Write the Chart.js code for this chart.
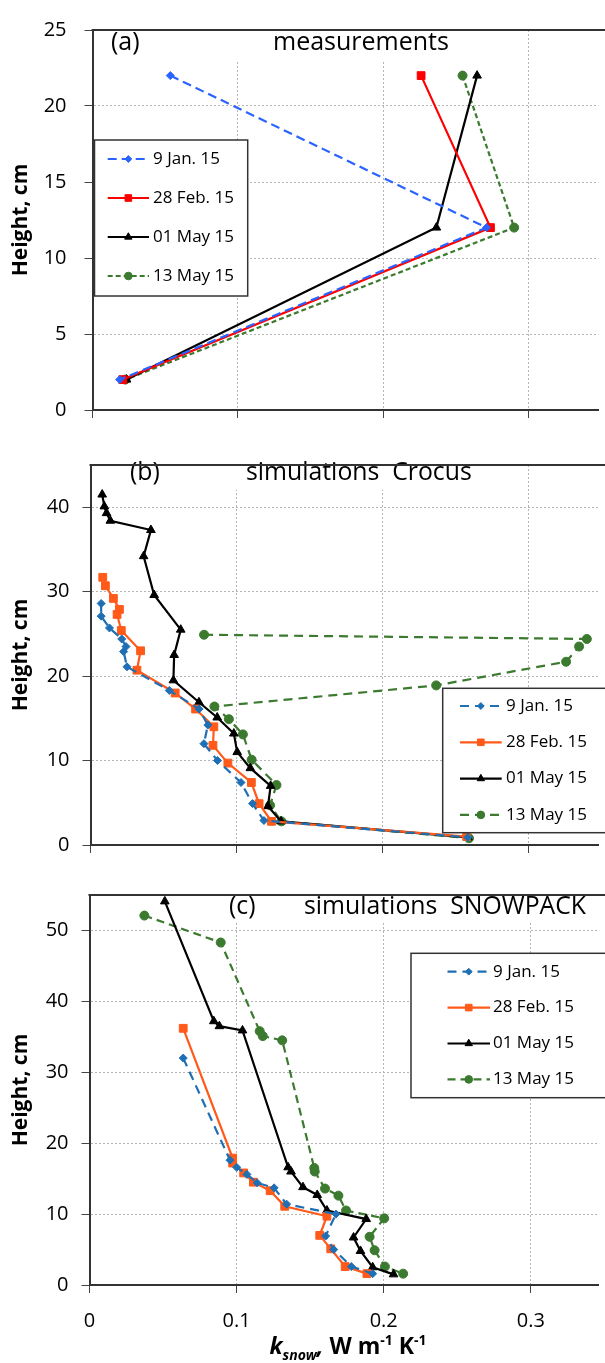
<!DOCTYPE html>
<html lang="en">
<head>
<meta charset="utf-8">
<title>k_snow profiles</title>
<script src="https://cdn.jsdelivr.net/npm/chart.js"></script>
<style>
  body { margin: 0; background: #fff; width: 605px; height: 1363px; overflow: hidden; position: relative; }
  .panel { position: absolute; left: 0; width: 605px; }
</style>
</head>
<body>
<div class="panel" style="top:0;height:440px"><canvas id="chartA"></canvas></div>
<div class="panel" style="top:440px;height:430px"><canvas id="chartB"></canvas></div>
<div class="panel" style="top:870px;height:493px"><canvas id="chartC"></canvas></div>

<script>
// ---- data (k_snow in W m-1 K-1, height in cm) ----
const seriesNames = ['9 Jan. 15', '28 Feb. 15', '01 May 15', '13 May 15'];
const xTicks = [0, 0.1, 0.2, 0.3];
const yTicksA = [0, 5, 10, 15, 20, 25];
const yTicksB = [0, 10, 20, 30, 40];
const yTicksC = [0, 10, 20, 30, 40, 50];

// (a) measurements
const measHeight = [22, 12, 2];
const measJan = [0.0535, 0.271, 0.0187];
const measFeb = [0.226, 0.2737, 0.0208];
const measMay01 = [0.2645, 0.2365, 0.0234];
const measMay13 = [0.2545, 0.29, 0.0226];

// (b) Crocus
const crocJanK = [0.0073, 0.0073, 0.013, 0.0214, 0.0243, 0.0227, 0.025, 0.054, 0.0744, 0.0804, 0.0777, 0.087, 0.1031, 0.111, 0.1188, 0.2585];
const crocJanH = [28.6, 27.1, 25.7, 24.4, 23.5, 22.9, 21.1, 18.3, 16.1, 14.2, 12.0, 10.0, 7.4, 4.9, 2.9, 0.9];
const crocFebK = [0.0084, 0.0102, 0.0157, 0.0198, 0.0182, 0.0211, 0.0343, 0.0318, 0.058, 0.072, 0.0845, 0.0839, 0.0941, 0.1102, 0.1155, 0.124, 0.2577];
const crocFebH = [31.7, 30.7, 29.2, 27.9, 27.3, 25.4, 23.0, 20.7, 18.0, 16.1, 14.0, 11.8, 9.7, 7.4, 4.9, 2.8, 1.0];
const crocMay01K = [0.008, 0.0095, 0.011, 0.0136, 0.0414, 0.0364, 0.0436, 0.0618, 0.0573, 0.0568, 0.0743, 0.0868, 0.0982, 0.1005, 0.1095, 0.1234, 0.1216, 0.1305, 0.2585];
const crocMay01H = [41.5, 40.1, 39.3, 38.4, 37.3, 34.2, 29.6, 25.5, 22.5, 19.5, 16.9, 15.1, 13.2, 11.0, 9.1, 7.0, 4.6, 2.8, 0.9];
const crocMay13K = [0.0778, 0.34, 0.3347, 0.3258, 0.2368, 0.0849, 0.0948, 0.1044, 0.1104, 0.1274, 0.123, 0.1308, 0.2593];
const crocMay13H = [24.9, 24.4, 23.5, 21.7, 18.9, 16.4, 14.9, 13.1, 10.1, 7.1, 4.7, 2.8, 0.8];

// (c) SNOWPACK
const snowJanK = [0.0637, 0.0955, 0.1, 0.107, 0.114, 0.1255, 0.134, 0.1675, 0.1605, 0.166, 0.178, 0.1925];
const snowJanH = [32.0, 17.6, 16.6, 15.6, 14.4, 13.7, 11.4, 10.0, 6.9, 5.0, 2.6, 1.6];
const snowFebK = [0.0637, 0.0973, 0.0973, 0.1048, 0.1114, 0.1228, 0.1327, 0.1614, 0.1565, 0.164, 0.1738, 0.1886];
const snowFebH = [36.2, 17.9, 17.2, 15.8, 14.5, 13.3, 11.1, 9.7, 7.0, 5.1, 2.6, 1.6];
const snowMay01K = [0.0512, 0.0845, 0.0883, 0.104, 0.135, 0.137, 0.1451, 0.1548, 0.1614, 0.1881, 0.1795, 0.1842, 0.1925, 0.2067];
const snowMay01H = [54.1, 37.2, 36.5, 35.9, 16.6, 16.0, 13.8, 12.7, 10.5, 9.3, 6.7, 4.8, 2.5, 1.5];
const snowMay13K = [0.0373, 0.0892, 0.1157, 0.1178, 0.131, 0.1528, 0.1531, 0.1601, 0.1692, 0.1744, 0.2003, 0.1904, 0.1938, 0.2008, 0.2132];
const snowMay13H = [52.1, 48.3, 35.8, 35.1, 34.5, 16.5, 16.0, 13.6, 12.6, 10.5, 9.4, 6.8, 4.9, 2.6, 1.6];

// ---- helpers ----
const FONT = '"Open Sans", "DejaVu Sans", sans-serif';
const pts = (k, h) => k.map((v, i) => ({ x: v, y: h[i] }));

function series(name, data, color, style, radius, dash) {
  return {
    label: name, data: data, showLine: true, fill: false, tension: 0,
    borderColor: color, backgroundColor: color, borderWidth: 2.2, borderDash: dash,
    pointStyle: style, pointRadius: radius, pointBackgroundColor: color,
    pointBorderColor: color, pointBorderWidth: 1
  };
}

// text box, top frame line and legend drawn inside the plot
const panelDeco = {
  id: 'panelDeco',
  beforeDatasetsDraw(chart, args, o) {
    const ctx = chart.ctx;
    ctx.save();
    ctx.fillStyle = '#fff';
    ctx.fillRect(o.box[0], o.box[1], o.box[2] - o.box[0], o.box[3] - o.box[1]);
    ctx.fillStyle = '#000';
    ctx.font = o.fontSize + 'px ' + FONT;
    ctx.textBaseline = 'middle';
    ctx.textAlign = 'left';
    ctx.fillText(o.tag, o.tagX, o.textY);
    ctx.fillText(o.title, o.titleX, o.textY);
    ctx.restore();
  },
  afterDatasetsDraw(chart, args, o) {
    const { ctx, chartArea: ca } = chart;
    ctx.save();
    ctx.strokeStyle = '#333';
    ctx.lineWidth = 2;
    ctx.beginPath();
    ctx.moveTo(ca.left - 1, ca.top);
    ctx.lineTo(chart.width + 2, ca.top);
    ctx.stroke();

    const L = o.legend;
    ctx.fillStyle = '#fff';
    ctx.fillRect(L.x1, L.y1, L.x2 - L.x1, L.y2 - L.y1);
    ctx.lineWidth = 1.5;
    ctx.strokeStyle = '#333';
    ctx.strokeRect(L.x1, L.y1, L.x2 - L.x1, L.y2 - L.y1);

    chart.data.datasets.forEach((ds, i) => {
      const y = L.rowY + i * L.rowGap;
      ctx.strokeStyle = ds.borderColor;
      ctx.lineWidth = ds.borderWidth;
      ctx.setLineDash(ds.borderDash || []);
      ctx.beginPath();
      ctx.moveTo(L.lx1, y);
      ctx.lineTo(L.lx2, y);
      ctx.stroke();
      ctx.setLineDash([]);
      ctx.fillStyle = ds.pointBackgroundColor;
      ctx.strokeStyle = ds.pointBorderColor;
      ctx.lineWidth = 1;
      Chart.helpers.drawPoint(ctx, { pointStyle: ds.pointStyle, radius: ds.pointRadius * 0.85, borderWidth: 1, rotation: 0 }, (L.lx1 + L.lx2) / 2, y);
      ctx.fillStyle = '#000';
      ctx.font = L.fontSize + 'px ' + FONT;
      ctx.textBaseline = 'middle';
      ctx.textAlign = 'left';
      ctx.fillText(ds.label, L.tx, y);
    });
    ctx.restore();
  },
  afterDraw(chart, args, o) {
    if (!o.xTitle) return;
    const ctx = chart.ctx;
    const parts = [
      { t: 'k', f: 'italic bold 23px', dy: 0 },
      { t: 'snow', f: 'italic bold 14px', dy: 6 },
      { t: ',', f: 'italic bold 23px', dy: 0 },
      { t: ' W m', f: 'bold 23px', dy: 0 },
      { t: '-1', f: 'bold 14px', dy: -9 },
      { t: ' K', f: 'bold 23px', dy: 0 },
      { t: '-1', f: 'bold 14px', dy: -9 }
    ];
    ctx.save();
    ctx.fillStyle = '#000';
    ctx.textBaseline = 'alphabetic';
    ctx.textAlign = 'left';
    let w = 0;
    parts.forEach(p => { ctx.font = p.f + ' ' + FONT; p.w = ctx.measureText(p.t).width; w += p.w; });
    let x = o.xTitle.cx - w / 2;
    parts.forEach(p => {
      ctx.font = p.f + ' ' + FONT;
      ctx.fillText(p.t, x, o.xTitle.base + p.dy);
      x += p.w;
    });
    ctx.restore();
  }
};

function makeOptions(cfg) {
  const tickFont = { family: FONT, size: 20 };
  return {
    responsive: true,
    maintainAspectRatio: false,
    animation: false,
    events: [],
    layout: { padding: { top: cfg.padTop, left: 0, right: 0, bottom: 0 } },
    plugins: { legend: { display: false }, tooltip: { enabled: false }, panelDeco: cfg.deco },
    scales: {
      x: {
        type: 'linear', min: 0, max: cfg.xMax,
        afterBuildTicks: s => { s.ticks = xTicks.map(v => ({ value: v })); },
        afterFit: s => { s.height = cfg.xAxisH; },
        ticks: { display: cfg.xLabels, padding: 16, color: '#000', font: tickFont, callback: v => String(v) },
        grid: { color: '#b4b4b4', lineWidth: 1, tickColor: '#444', tickLength: 8, tickBorderDash: [] },
        border: { color: '#333', width: 2, dash: [2, 2] }
      },
      y: {
        type: 'linear', min: 0, max: cfg.yMax,
        afterBuildTicks: s => { s.ticks = cfg.yTicks.map(v => ({ value: v })); },
        afterFit: s => { s.width = cfg.yAxisW; },
        ticks: { padding: cfg.yPad, color: '#000', font: tickFont, callback: v => String(v) },
        grid: { color: '#b4b4b4', lineWidth: 1, tickColor: '#444', tickLength: 8, tickBorderDash: [] },
        border: { color: '#333', width: 2, dash: [2, 2] },
        title: { display: true, text: 'Height, cm', color: '#000', font: { family: FONT, size: 21, weight: 'bold' }, padding: { top: 8, bottom: 0 } }
      }
    }
  };
}

// ---- panel (a) ----
new Chart(document.getElementById('chartA'), {
  type: 'scatter',
  data: {
    datasets: [
      series(seriesNames[0], pts(measJan, measHeight), '#2a63ff', 'rectRot', 4, [9, 5]),
      series(seriesNames[1], pts(measFeb, measHeight), '#ff0000', 'rect', 5.5, []),
      series(seriesNames[2], pts(measMay01, measHeight), '#000000', 'triangle', 5, []),
      series(seriesNames[3], pts(measMay13, measHeight), '#3b7a2f', 'circle', 4.5, [5, 3])
    ]
  },
  options: makeOptions({
    padTop: 19, xAxisH: 15.7, yAxisW: 92.5, yPad: 18, xMax: 0.348, yMax: 25, yTicks: yTicksA, xLabels: false,
    deco: {
      box: [100, 20, 470, 62], fontSize: 25, tag: '(a)', tagX: 111, title: 'measurements', titleX: 273, textY: 43,
      legend: { x1: 94.5, y1: 140, x2: 247.7, y2: 296, rowY: 159, rowGap: 39, lx1: 107.7, lx2: 149, tx: 153, fontSize: 17 }
    }
  }),
  plugins: [panelDeco]
});

// ---- panel (b) ----
new Chart(document.getElementById('chartB'), {
  type: 'scatter',
  data: {
    datasets: [
      series(seriesNames[0], pts(crocJanK, crocJanH), '#1f6fb4', 'rectRot', 4, [9, 6]),
      series(seriesNames[1], pts(crocFebK, crocFebH), '#ff5a1a', 'rect', 5.5, []),
      series(seriesNames[2], pts(crocMay01K, crocMay01H), '#000000', 'triangle', 5, []),
      series(seriesNames[3], pts(crocMay13K, crocMay13H), '#3b7a2f', 'circle', 4.5, [9, 6])
    ]
  },
  options: makeOptions({
    padTop: 9.3, xAxisH: 19.3, yAxisW: 90.5, yPad: 13, xMax: 0.348, yMax: 45, yTicks: yTicksB, xLabels: false,
    deco: {
      box: [120, 10, 490, 50], fontSize: 24.8, tag: '(b)', tagX: 130, title: 'simulations  Crocus', titleX: 246, textY: 33.3,
      legend: { x1: 442.7, y1: 248.3, x2: 607, y2: 392.7, rowY: 266, rowGap: 36.3, lx1: 460, lx2: 501.7, tx: 506, fontSize: 17 }
    }
  }),
  plugins: [panelDeco]
});

// ---- panel (c) ----
new Chart(document.getElementById('chartC'), {
  type: 'scatter',
  data: {
    datasets: [
      series(seriesNames[0], pts(snowJanK, snowJanH), '#1f6fb4', 'rectRot', 4, [9, 6]),
      series(seriesNames[1], pts(snowFebK, snowFebH), '#ff5a1a', 'rect', 5.5, []),
      series(seriesNames[2], pts(snowMay01K, snowMay01H), '#000000', 'triangle', 5, []),
      series(seriesNames[3], pts(snowMay13K, snowMay13H), '#3b7a2f', 'circle', 4.5, [8, 5])
    ]
  },
  options: makeOptions({
    padTop: 12.3, xAxisH: 78, yAxisW: 89.5, yPad: 13, xMax: 0.346, yMax: 55, yTicks: yTicksC, xLabels: true,
    deco: {
      box: [225, 13, 592, 52], fontSize: 24.8, tag: '(c)', tagX: 229, title: 'simulations  SNOWPACK', titleX: 304, textY: 36.7,
      legend: { x1: 411, y1: 83.3, x2: 607, y2: 227.7, rowY: 101.7, rowGap: 35.9, lx1: 447.5, lx2: 490, tx: 493, fontSize: 17 },
      xTitle: { cx: 348, base: 484 }
    }
  }),
  plugins: [panelDeco]
});
</script>
</body>
</html>
